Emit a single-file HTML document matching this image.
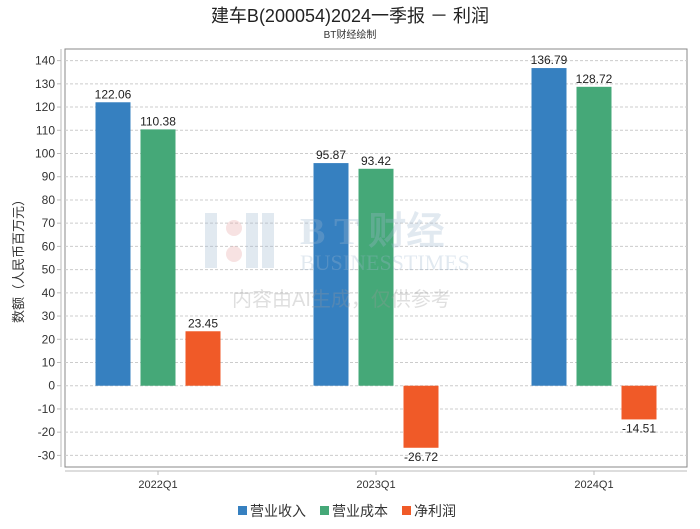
<!DOCTYPE html>
<html><head><meta charset="utf-8"><style>
body{margin:0;background:#fff;width:700px;height:524px;overflow:hidden;font-family:"Liberation Sans","Noto Sans CJK SC",sans-serif}
</style></head><body>
<svg id="c" width="700" height="524" xmlns="http://www.w3.org/2000/svg">
<text x="350" y="22" text-anchor="middle" font-size="18" fill="#222">建车B(200054)2024一季报 － 利润</text>
<text x="350" y="38" text-anchor="middle" font-size="10" fill="#333">BT财经绘制</text>
<g id="plot"></g>
<g id="wm" opacity="0.3">
<rect x="205" y="213" width="12" height="55" fill="#9fb7d0"/><rect x="246" y="213" width="12" height="55" fill="#9fb7d0"/><rect x="262" y="213" width="12" height="55" fill="#9fb7d0"/>
<circle cx="234" cy="228" r="8" fill="#e8a0a0"/><circle cx="234" cy="254" r="8" fill="#e8a0a0"/>
<text x="300" y="244" font-size="38" font-family="Liberation Serif,serif" font-weight="bold" fill="#9fb7d0">B T 财经</text>
<text x="300" y="270" font-size="22" font-family="Liberation Serif,serif" fill="#9fb7d0">BUSINESSTIMES</text>
<text x="232" y="306" font-size="20" fill="#999">内容由AI生成，仅供参考</text>
</g>
<g>
<rect x="238" y="506" width="9" height="9" fill="#3680c0"/>
<text x="250" y="516" font-size="14" fill="#333">营业收入</text>
<rect x="320" y="506" width="9" height="9" fill="#45a878"/>
<text x="332" y="516" font-size="14" fill="#333">营业成本</text>
<rect x="402" y="506" width="9" height="9" fill="#f05a28"/>
<text x="414" y="516" font-size="14" fill="#333">净利润</text>
</g>
<text transform="translate(23,258) rotate(-90)" text-anchor="middle" font-size="13" fill="#333">数额（人民币百万元）</text>
</svg>
<script>
const categories=["2022Q1","2023Q1","2024Q1"];
const revenue=[122.06,95.87,136.79];
const cost=[110.38,93.42,128.72];
const profit=[23.45,-26.72,-14.51];
const yTicks=[140,130,120,110,100,90,80,70,60,50,40,30,20,10,0,-10,-20,-30];
const colors=["#3680c0","#45a878","#f05a28"];
const names=["revenue","cost","profit"];
const NS="http://www.w3.org/2000/svg";
const g=document.getElementById('plot');
const L=65,R=687,T=49,B=467,ymin=-35,ymax=145;
function y(v){return T+(ymax-v)/(ymax-ymin)*(B-T);}
function x(i){return 158+i*218;}
function el(t,a){const e=document.createElementNS(NS,t);for(const k in a)e.setAttribute(k,a[k]);g.appendChild(e);return e;}
let f=el('rect',{x:L,y:T,width:R-L,height:B-T,fill:'none',stroke:'#888'});


el('line',{x1:61,y1:T,x2:61,y2:B,stroke:'#bbb'});
el('line',{x1:L,y1:471,x2:R,y2:471,stroke:'#bbb'});
yTicks.forEach(v=>{
 const yy=y(v);
 const gl=el('line',{x1:L,y1:yy,x2:R,y2:yy,stroke:'#ccc','stroke-dasharray':'3,2'});
 
 
 el('line',{x1:57,y1:yy,x2:61,y2:yy,stroke:'#bbb'});
 const t=el('text',{x:55,y:yy+4,'text-anchor':'end','font-size':12,fill:'#333'});
 t.textContent=v;
 
 
});
const series=[revenue,cost,profit];
categories.forEach((c,i)=>{
 el('line',{x1:x(i),y1:471,x2:x(i),y2:475,stroke:'#bbb'});
 const t=el('text',{x:x(i),y:488,'text-anchor':'middle','font-size':11,fill:'#333'});
 t.textContent=c;
 
 
 series.forEach((s,j)=>{
  const v=s[i];const cx=x(i)+(j-1)*45;const w=35;
  const y0=y(0),y1=y(v);
  const r=el('rect',{x:cx-w/2,y:Math.min(y0,y1),width:w,height:Math.abs(y1-y0),fill:colors[j]});
  
  
  const lt=el('text',{x:cx,y:v>=0?y1-4:y1+13,'text-anchor':'middle','font-size':12,fill:'#222'});
  lt.textContent=v.toFixed(2);
  
  
 });
});
</script>
</body></html>
